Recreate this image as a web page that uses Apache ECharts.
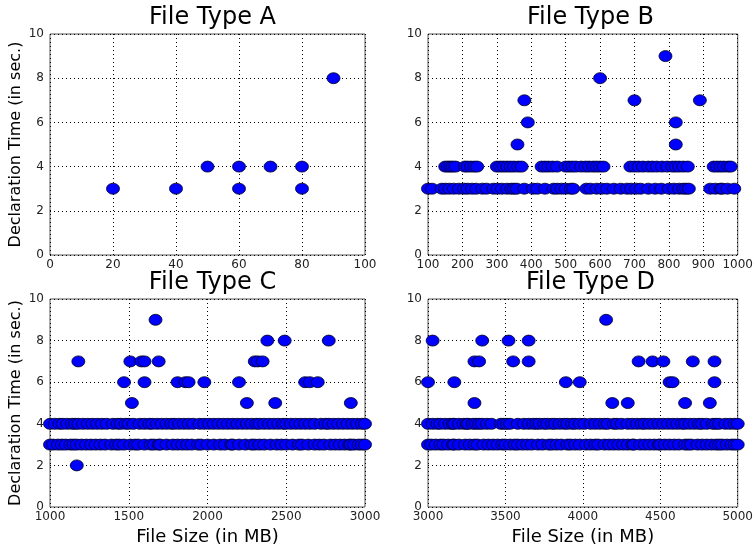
<!DOCTYPE html>
<html>
<head>
<meta charset="utf-8">
<script src="https://cdn.jsdelivr.net/npm/echarts@6/dist/echarts.min.js"></script>
<style>
  html, body { margin: 0; padding: 0; background: #fff; }
  #myChart { width: 756px; height: 547px; }
</style>
</head>
<body>
<div id="myChart"></div>
<script>
// File Type A
var aX = [20, 40, 50, 60, 60, 70, 80, 80, 90]
var aY = [3, 3, 4, 4, 3, 4, 4, 3, 8]

// File Type B - rows at 3 s and 4 s, plus outliers
var bRow3 = [100, 112, 140, 150, 162, 175, 190, 205, 215, 228, 240, 258, 270, 290, 302, 315, 330, 342, 350, 358, 380, 405, 418, 440, 465, 475, 488, 500, 515, 522, 560, 572, 590, 605, 620, 640, 660, 678, 690, 705, 718, 740, 760, 778, 800, 815, 830, 842, 850, 858, 920, 935, 950, 955, 970, 990]
var bRow4 = [150, 158, 165, 172, 180, 207, 215, 225, 235, 243, 300, 310, 320, 330, 340, 350, 362, 372, 430, 440, 450, 462, 475, 500, 510, 520, 530, 545, 558, 568, 580, 590, 600, 610, 688, 700, 712, 725, 740, 752, 765, 780, 795, 810, 820, 830, 842, 855, 930, 940, 950, 960, 972, 980]
var bOutX = [360, 380, 390, 600, 700, 790, 820, 820, 890]
var bOutY = [5, 7, 6, 8, 7, 9, 6, 5, 7]

// File Type C
var cRow3 = [1000, 1020, 1050, 1075, 1100, 1130, 1150, 1170, 1200, 1230, 1260, 1290, 1320, 1350, 1390, 1420, 1440, 1470, 1510, 1540, 1560, 1600, 1640, 1660, 1690, 1700, 1740, 1780, 1810, 1840, 1870, 1900, 1940, 1960, 2000, 2040, 2080, 2110, 2150, 2160, 2200, 2240, 2280, 2300, 2330, 2360, 2400, 2440, 2470, 2500, 2540, 2580, 2600, 2640, 2680, 2710, 2740, 2780, 2810, 2840, 2870, 2900, 2910, 2930, 2960, 2980, 3000]
var cRow4 = [1000, 1030, 1060, 1080, 1110, 1140, 1160, 1180, 1210, 1240, 1270, 1300, 1330, 1360, 1400, 1430, 1450, 1480, 1500, 1530, 1570, 1600, 1630, 1650, 1680, 1710, 1740, 1770, 1790, 1820, 1850, 1880, 1910, 1950, 1980, 2010, 2040, 2070, 2100, 2130, 2160, 2190, 2220, 2250, 2280, 2310, 2330, 2360, 2390, 2420, 2450, 2480, 2500, 2530, 2560, 2590, 2620, 2650, 2680, 2720, 2750, 2770, 2800, 2830, 2860, 2890, 2920, 2950, 2980, 3000]
var cOutX = [1180, 1170, 1470, 1510, 1520, 1580, 1600, 1600, 1670, 1690, 1810, 1860, 1880, 1980, 2200, 2250, 2300, 2320, 2350, 2380, 2430, 2490, 2620, 2650, 2700, 2770, 2910]
var cOutY = [7, 2, 6, 7, 5, 7, 7, 6, 9, 7, 6, 6, 6, 6, 6, 5, 7, 7, 7, 8, 5, 8, 6, 6, 6, 8, 5]

// File Type D
var dRow3 = [3000, 3020, 3050, 3080, 3100, 3130, 3160, 3170, 3200, 3240, 3270, 3300, 3320, 3360, 3390, 3420, 3450, 3480, 3500, 3530, 3560, 3580, 3610, 3640, 3670, 3710, 3740, 3780, 3800, 3830, 3860, 3900, 3920, 3950, 3980, 4020, 4050, 4080, 4100, 4140, 4170, 4200, 4230, 4260, 4290, 4320, 4330, 4370, 4400, 4430, 4460, 4490, 4500, 4530, 4560, 4590, 4620, 4660, 4680, 4700, 4740, 4770, 4800, 4830, 4860, 4880, 4900, 4930, 4960, 4980, 5000]
var dRow4 = [3000, 3030, 3060, 3080, 3110, 3140, 3160, 3170, 3200, 3230, 3250, 3260, 3290, 3310, 3330, 3350, 3380, 3410, 3470, 3490, 3510, 3530, 3580, 3620, 3650, 3680, 3700, 3720, 3750, 3770, 3800, 3820, 3850, 3880, 3900, 3930, 3950, 3980, 4010, 4050, 4080, 4110, 4140, 4160, 4200, 4220, 4250, 4290, 4320, 4350, 4380, 4400, 4430, 4460, 4490, 4520, 4550, 4580, 4610, 4640, 4660, 4690, 4720, 4750, 4770, 4800, 4840, 4860, 4880, 4920, 4950, 4980, 5000]
var dOutX = [3000, 3030, 3170, 3300, 3300, 3330, 3350, 3520, 3550, 3650, 3650, 3890, 3980, 4150, 4190, 4290, 4360, 4450, 4520, 4560, 4580, 4660, 4710, 4820, 4850, 4850]
var dOutY = [6, 8, 6, 5, 7, 7, 8, 8, 7, 8, 7, 6, 6, 9, 5, 5, 7, 7, 7, 6, 6, 5, 7, 5, 7, 6]

var titles = ['File Type A', 'File Type B', 'File Type C', 'File Type D']
var xRanges = [[0, 100, 20], [100, 1000, 100], [1000, 3000, 500], [3000, 5000, 500]]
var yTicks = [0, 10, 2]

var font = 'DejaVu Sans'

function rowPoints(xs, y) {
  return xs.map(function (x) { return [x, y] })
}
function pairPoints(xs, ys) {
  return xs.map(function (x, i) { return [x, ys[i]] })
}

var panelData = [
  pairPoints(aX, aY),
  rowPoints(bRow3, 3).concat(rowPoints(bRow4, 4), pairPoints(bOutX, bOutY)),
  rowPoints(cRow3, 3).concat(rowPoints(cRow4, 4), pairPoints(cOutX, cOutY)),
  rowPoints(dRow3, 3).concat(rowPoints(dRow4, 4), pairPoints(dOutX, dOutY))
]

// plot boxes in px
var boxes = [
  { left: 50, top: 34, width: 315, height: 221 },
  { left: 428, top: 34, width: 315, height: 221 },
  { left: 50, top: 299, width: 315, height: 220 },
  { left: 428, top: 299, width: 315, height: 220 }
]

var grids = [], xAxes = [], yAxes = [], series = [], titleOpts = []
for (var i = 0; i < 4; i++) {
  var b = boxes[i]
  grids.push({
    left: b.left, top: b.top, width: b.width, height: b.height,
    show: true, borderColor: '#555', borderWidth: 1, backgroundColor: 'transparent'
  })
  titleOpts.push({
    text: titles[i],
    left: b.left + b.width / 2,
    top: b.top - 33,
    textAlign: 'center',
    textStyle: { fontFamily: font, fontSize: 24, fontWeight: 'normal', color: '#000' }
  })
  xAxes.push({
    gridIndex: i, type: 'value',
    min: xRanges[i][0], max: xRanges[i][1], interval: xRanges[i][2],
    name: i >= 2 ? 'File Size (in MB)' : '',
    nameLocation: 'middle', nameGap: 21,
    nameTextStyle: { fontFamily: font, fontSize: 18, color: '#000' },
    axisLine: { show: false },
    axisTick: { show: false },
    axisLabel: {
      fontFamily: font, fontSize: 12, color: '#222', margin: 4,
      formatter: function (v) { return String(v) }
    },
    splitLine: { show: true, lineStyle: { color: '#000', type: [1, 3], width: 1 } }
  })
  yAxes.push({
    gridIndex: i, type: 'value',
    min: yTicks[0], max: yTicks[1], interval: yTicks[2],
    name: i % 2 === 0 ? 'Declaration Time (in sec.)' : '',
    nameLocation: 'middle', nameGap: 26,
    nameTextStyle: { fontFamily: font, fontSize: 16, color: '#000' },
    axisLine: { show: false },
    axisTick: { show: false },
    axisLabel: { fontFamily: font, fontSize: 12, color: '#222', margin: 6 },
    splitLine: { show: true, lineStyle: { color: '#000', type: [1, 3], width: 1 } }
  })
  series.push({
    type: 'scatter',
    xAxisIndex: i, yAxisIndex: i,
    symbol: 'circle',
    symbolSize: [13, 11],
    itemStyle: { color: '#0000ff', borderColor: '#000022', borderWidth: 0.8, opacity: 1 },
    data: panelData[i],
    animation: false
  })
}

var myChart = echarts.init(document.getElementById('myChart'))
myChart.setOption({
  backgroundColor: '#fff',
  animation: false,
  title: titleOpts,
  grid: grids,
  xAxis: xAxes,
  yAxis: yAxes,
  series: series
})
</script>
</body>
</html>
